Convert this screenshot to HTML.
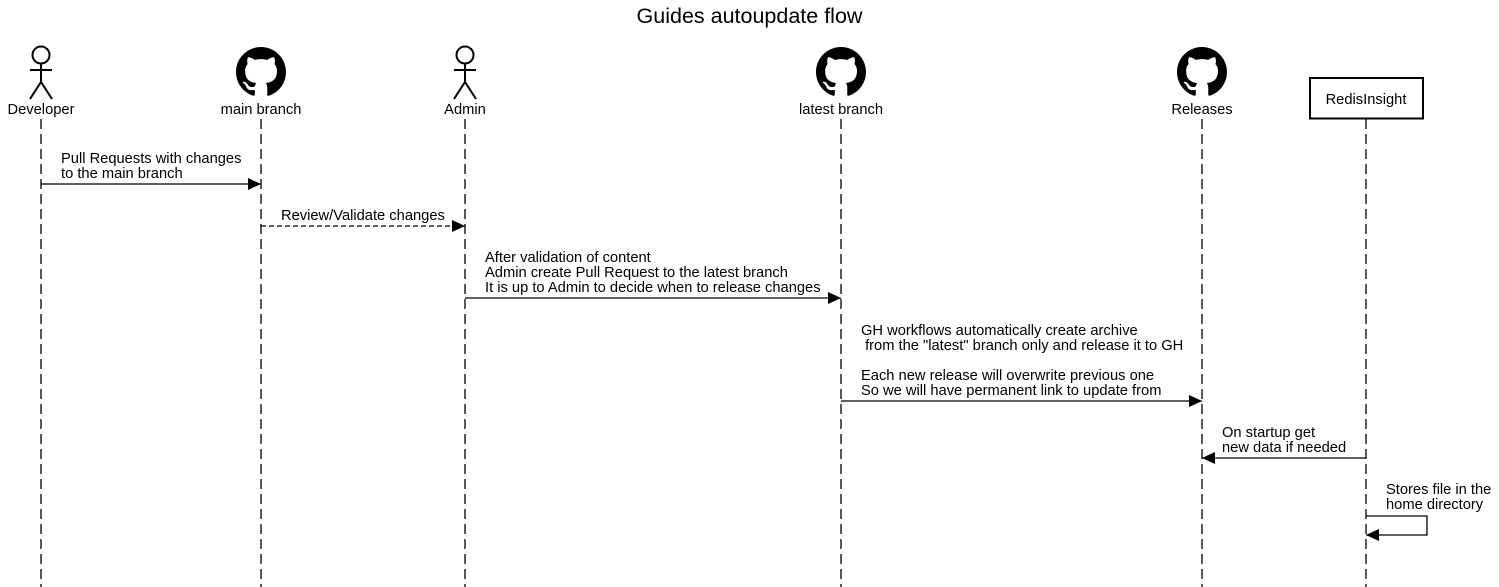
<!DOCTYPE html>
<html><head><meta charset="utf-8"><style>html,body{margin:0;padding:0;background:#fff}svg{display:block}text{font-family:"Liberation Sans",sans-serif;fill:#000}</style></head>
<body>
<svg width="1499" height="587" viewBox="0 0 1499 587" xmlns="http://www.w3.org/2000/svg">
<defs>
<path id="gh" d="M8 0C3.58 0 0 3.58 0 8c0 3.54 2.290 6.530 5.470 7.590.4.07.55-.17.55-.38 0-.19-.01-.82-.01-1.49-2.01.37-2.53-.49-2.69-.94-.09-.23-.48-.94-.82-1.13-.28-.15-.68-.52-.01-.53.63-.01 1.080.58 1.230.82.72 1.210 1.870.87 2.330.66.07-.52.28-.87.51-1.07-1.78-.2-3.640-.89-3.640-3.950 0-.87.31-1.590.82-2.150-.08-.2-.36-1.020.08-2.120 0 0 .67-.21 2.200.82.64-.18 1.320-.27 2-.27.68 0 1.360.09 2 .27 1.530-1.040 2.200-.82 2.200-.82.44 1.100.16 1.920.08 2.120.51.56.82 1.270.82 2.150 0 3.070-1.870 3.750-3.650 3.950.29.25.54.73.54 1.480 0 1.070-.01 1.930-.01 2.200 0 .21.15.46.55.38A8.013 8.013 0 0016 8c0-4.420-3.580-8-8-8z"/>
<marker id="ar" markerWidth="14" markerHeight="12" refX="13" refY="6" orient="auto" markerUnits="userSpaceOnUse"><path d="M0,0 L13,6 L0,12 z" fill="#000"/></marker>
</defs>
<text x="749.5" y="23" font-size="21.5" text-anchor="middle">Guides autoupdate flow</text>
<g stroke="#000" stroke-width="1.3" stroke-dasharray="10,5">
<line x1="41" y1="119" x2="41" y2="587"/><line x1="261" y1="119" x2="261" y2="587"/>
<line x1="465" y1="119" x2="465" y2="587"/><line x1="841" y1="119" x2="841" y2="587"/>
<line x1="1202" y1="119" x2="1202" y2="587"/><line x1="1366" y1="119" x2="1366" y2="587"/>
</g>
<g stroke="#000" stroke-width="2" fill="none">
<circle cx="41" cy="55" r="8.5"/><line x1="41" y1="63.5" x2="41" y2="82"/><line x1="30" y1="70" x2="52" y2="70"/><path d="M30,99 L41,82 L52,99"/>
<circle cx="465" cy="55" r="8.5"/><line x1="465" y1="63.5" x2="465" y2="82"/><line x1="454" y1="70" x2="476" y2="70"/><path d="M454,99 L465,82 L476,99"/>
</g>
<use href="#gh" transform="translate(236,47) scale(3.125)"/>
<use href="#gh" transform="translate(816,47) scale(3.125)"/>
<use href="#gh" transform="translate(1177,47) scale(3.125)"/>
<rect x="1310" y="78" width="113" height="40.5" fill="#fff" stroke="#000" stroke-width="2"/>
<g font-size="14.7" text-anchor="middle">
<text x="41" y="114">Developer</text><text x="261" y="114">main branch</text><text x="465" y="114">Admin</text>
<text x="841" y="114">latest branch</text><text x="1202" y="114">Releases</text><text x="1366" y="104">RedisInsight</text>
</g>
<g font-size="14.7">
<text x="61" y="163">Pull Requests with changes</text><text x="61" y="178">to the main branch</text>
<text x="281" y="220">Review/Validate changes</text>
<text x="485" y="262">After validation of content</text><text x="485" y="277">Admin create Pull Request to the latest branch</text><text x="485" y="292">It is up to Admin to decide when to release changes</text>
<text x="861" y="335">GH workflows automatically create archive</text><text x="861" y="350" xml:space="preserve"> from the "latest" branch only and release it to GH</text>
<text x="861" y="380">Each new release will overwrite previous one</text><text x="861" y="395">So we will have permanent link to update from</text>
<text x="1222" y="437">On startup get</text><text x="1222" y="452">new data if needed</text>
<text x="1386" y="494">Stores file in the</text><text x="1386" y="509">home directory</text>
</g>
<g stroke="#000" stroke-width="1.3" fill="none">
<line x1="41" y1="184" x2="261" y2="184" marker-end="url(#ar)"/>
<line x1="261" y1="226" x2="465" y2="226" stroke-dasharray="5,3" marker-end="url(#ar)"/>
<line x1="465" y1="298" x2="841" y2="298" marker-end="url(#ar)"/>
<line x1="841" y1="401" x2="1202" y2="401" marker-end="url(#ar)"/>
<line x1="1366" y1="458" x2="1202" y2="458" marker-end="url(#ar)"/>
<path d="M1366,516 L1427,516 L1427,535 L1366,535" marker-end="url(#ar)"/>
</g>
</svg>
</body></html>
